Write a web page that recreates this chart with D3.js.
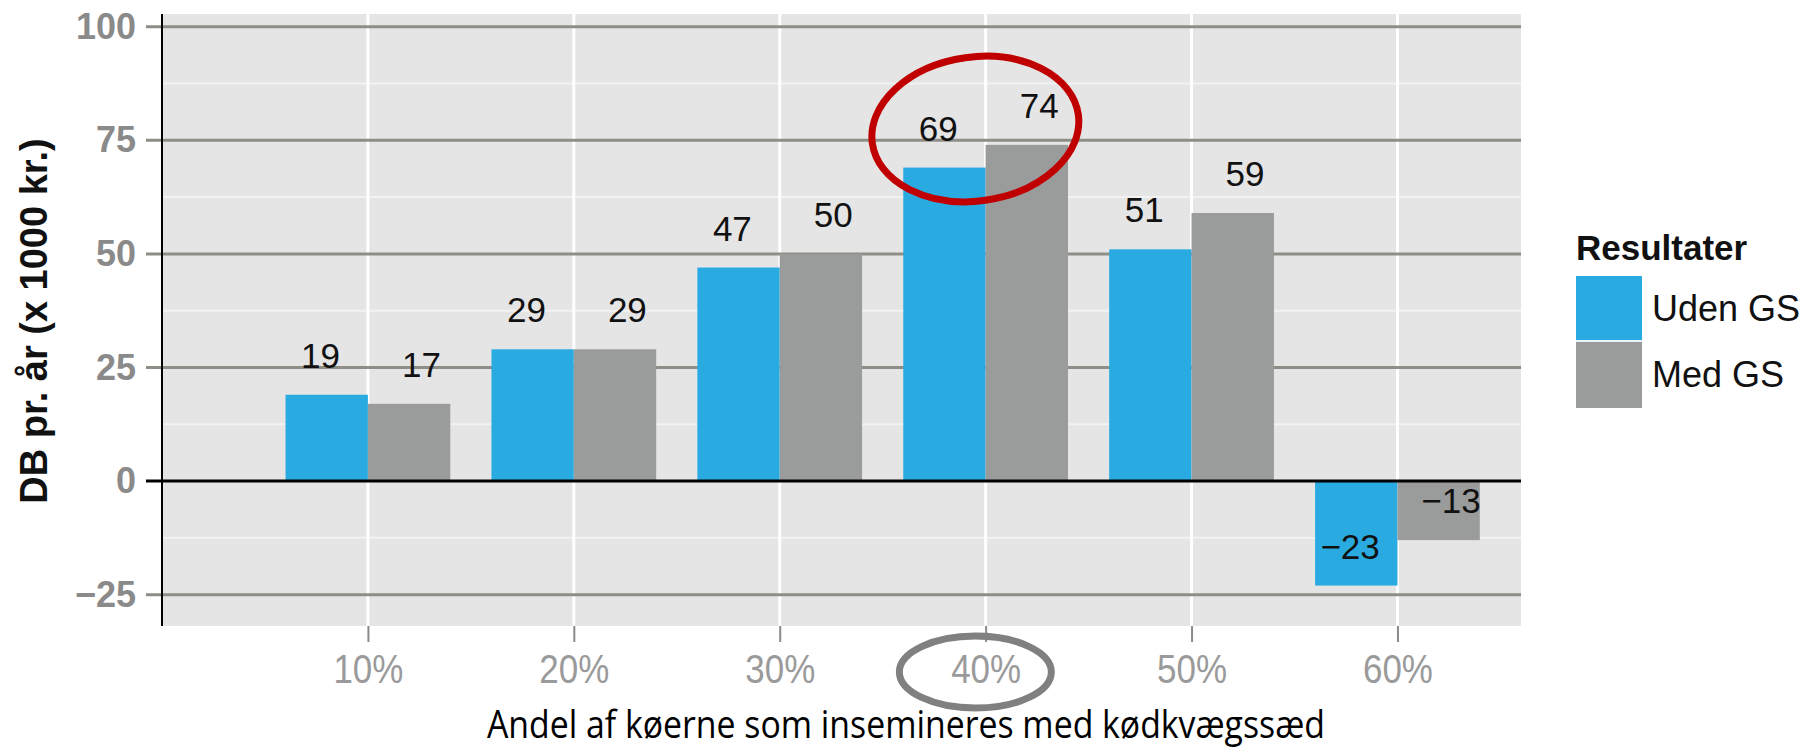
<!DOCTYPE html>
<html lang="da">
<head>
  <meta charset="UTF-8">
  <title>DB pr. år</title>
  <script src="https://d3js.org/d3.v7.min.js"></script>
  <style>
    * { padding: 0; margin: 0; box-sizing: border-box; }
    body { background: #fff; }
  </style>
</head>
<body>
  <div id="container"></div>
  <script>
    // data
    const categories = ["10%", "20%", "30%", "40%", "50%", "60%"];
    const shares = [10, 20, 30, 40, 50, 60];
    const udenGS = [19, 29, 47, 69, 51, -23];
    const medGS = [17, 29, 50, 74, 59, -13];
    const seriesNames = ["Uden GS", "Med GS"];
    const yTicks = [-25, 0, 25, 50, 75, 100];
    const yMinor = [-12.5, 12.5, 37.5, 62.5, 87.5];

    const width = 1812, height = 749;
    const panel = { left: 162, right: 1521, top: 14, bottom: 626 };
    const colors = ["#29abe2", "#9a9b9b"];
    const barW = 4; // in % units

    const x = d3.scaleLinear().domain([0, 66]).range([panel.left, panel.right]);
    const y = d3.scaleLinear().domain([-31.9, 102.8]).range([panel.bottom, panel.top]);
    const fmt = d3.format("d");

    const svg = d3.select("#container")
      .append("svg")
      .attr("width", width)
      .attr("height", height)
      .attr("font-family", "'Liberation Sans', Arial, sans-serif");

    // panel background
    svg.append("rect")
      .attr("x", panel.left).attr("y", panel.top)
      .attr("width", panel.right - panel.left)
      .attr("height", panel.bottom - panel.top)
      .attr("fill", "#e5e5e5");

    // minor + major grid
    svg.append("g").selectAll("line")
      .data(yMinor)
      .join("line")
      .attr("x1", panel.left).attr("x2", panel.right)
      .attr("y1", d => y(d)).attr("y2", d => y(d))
      .attr("stroke", "#f2f2f2").attr("stroke-width", 2);

    svg.append("g").selectAll("line")
      .data(shares)
      .join("line")
      .attr("x1", d => x(d)).attr("x2", d => x(d))
      .attr("y1", panel.top).attr("y2", panel.bottom)
      .attr("stroke", "#fff").attr("stroke-width", 3);

    svg.append("g").selectAll("line")
      .data(yTicks.filter(d => d !== 0))
      .join("line")
      .attr("x1", panel.left - 16).attr("x2", panel.right)
      .attr("y1", d => y(d)).attr("y2", d => y(d))
      .attr("stroke", "#8e8e86").attr("stroke-width", 3);

    // bars
    const groups = svg.append("g").selectAll("g")
      .data(shares.map((s, i) => ({ s, vals: [udenGS[i], medGS[i]] })))
      .join("g");

    groups.selectAll("rect")
      .data(d => d.vals.map((v, j) => ({ s: d.s, v, j })))
      .join("rect")
      .attr("x", d => x(d.s - barW + d.j * barW))
      .attr("width", x(barW) - x(0))
      .attr("y", d => y(Math.max(0, d.v)))
      .attr("height", d => Math.abs(y(d.v) - y(0)))
      .attr("fill", d => colors[d.j]);

    // value labels
    groups.selectAll("text")
      .data(d => d.vals.map((v, j) => ({ s: d.s, v, j })))
      .join("text")
      .attr("x", d => x(d.s + (d.j === 0 ? -2.3 : 2.6)))
      .attr("y", d => y(d.v) - 27)
      .attr("text-anchor", "middle")
      .attr("font-size", 35)
      .attr("fill", "#111")
      .text(d => fmt(d.v));

    // zero line
    svg.append("line")
      .attr("x1", panel.left - 16).attr("x2", panel.right)
      .attr("y1", y(0)).attr("y2", y(0))
      .attr("stroke", "#000").attr("stroke-width", 3);

    // y axis
    const yAxis = svg.append("g")
      .attr("transform", `translate(${panel.left},0)`)
      .call(d3.axisLeft(y).tickValues(yTicks).tickSize(0).tickPadding(26));
    yAxis.select(".domain").remove();
    yAxis.selectAll("text")
      .attr("font-size", 36)
      .attr("font-weight", "bold")
      .attr("fill", "#8a8a8a");
    svg.append("line")
      .attr("x1", panel.left).attr("x2", panel.left)
      .attr("y1", panel.top).attr("y2", panel.bottom)
      .attr("stroke", "#000").attr("stroke-width", 2);

    // x axis
    const xAxis = svg.append("g")
      .attr("transform", `translate(0,${panel.bottom})`)
      .call(d3.axisBottom(x).tickValues(shares).tickFormat((d, i) => categories[i]).tickSize(16).tickPadding(12));
    xAxis.select(".domain").remove();
    xAxis.selectAll("line").attr("stroke", "#8a8a8a").attr("stroke-width", 2);
    xAxis.selectAll("text")
      .attr("font-size", 41)
      .attr("textLength", 70)
      .attr("lengthAdjust", "spacingAndGlyphs")
      .attr("fill", "#9a9a9a");

    // axis titles
    svg.append("text")
      .attr("transform", `translate(47,321) rotate(-90)`)
      .attr("text-anchor", "middle")
      .attr("font-size", 38)
      .attr("font-weight", "bold")
      .attr("fill", "#111")
      .text("DB pr. år (x 1000 kr.)");

    svg.append("text")
      .attr("x", 906).attr("y", 738)
      .attr("text-anchor", "middle")
      .attr("font-family", "'Open Sans', sans-serif")
      .attr("font-size", 38)
      .attr("textLength", 838)
      .attr("lengthAdjust", "spacingAndGlyphs")
      .attr("fill", "#000")
      .text("Andel af køerne som insemineres med kødkvægssæd");

    // legend
    const legend = svg.append("g").attr("transform", "translate(1576,0)");
    legend.append("text")
      .attr("x", 0).attr("y", 260)
      .attr("font-size", 35)
      .attr("font-weight", "bold")
      .attr("fill", "#111")
      .text("Resultater");
    const items = legend.selectAll("g.item")
      .data(seriesNames)
      .join("g")
      .attr("class", "item")
      .attr("transform", (d, i) => `translate(0,${276 + i * 66})`);
    items.append("rect")
      .attr("width", 66).attr("height", 66)
      .attr("fill", (d, i) => colors[i]);
    items.append("rect")
      .attr("y", 64).attr("width", 66).attr("height", 2)
      .attr("fill", (d, i) => i === 0 ? "#e8f4fa" : "none");
    items.append("text")
      .attr("x", 76).attr("y", 45)
      .attr("font-size", 36)
      .attr("fill", "#111")
      .text(d => d);

    // highlight marks
    svg.append("ellipse")
      .attr("transform", `translate(${x(39.5)},129) rotate(-8)`)
      .attr("rx", 104).attr("ry", 72)
      .attr("fill", "none")
      .attr("stroke", "#c00000")
      .attr("stroke-width", 7);

    svg.append("ellipse")
      .attr("cx", x(39.5)).attr("cy", 672)
      .attr("rx", 76).attr("ry", 36)
      .attr("fill", "none")
      .attr("stroke", "#808080")
      .attr("stroke-width", 7);
  </script>
</body>
</html>
